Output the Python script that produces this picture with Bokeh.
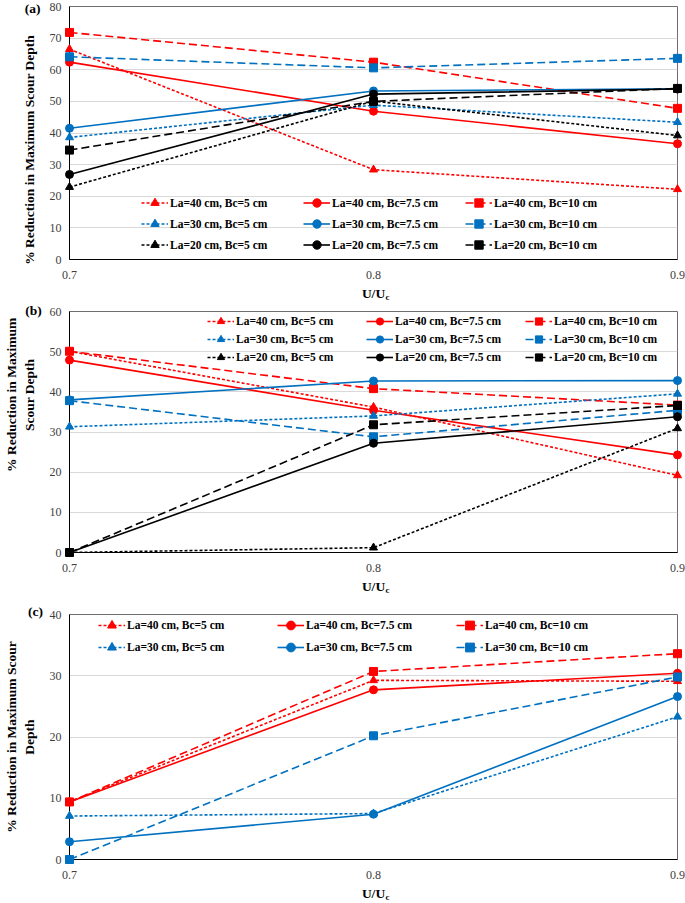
from bokeh.plotting import figure
from bokeh.models import (Legend, LegendItem, FixedTicker, Range1d)
from bokeh.core.properties import value
from bokeh.layouts import column
from bokeh.embed import file_html
from bokeh.resources import INLINE

# ---------------- data ----------------
U = [0.7, 0.8, 0.9]
x_ticks = [0.7, 0.8, 0.9]

labels_a = ["La=40 cm, Bc=5 cm", "La=40 cm, Bc=7.5 cm", "La=40 cm, Bc=10 cm",
            "La=30 cm, Bc=5 cm", "La=30 cm, Bc=7.5 cm", "La=30 cm, Bc=10 cm",
            "La=20 cm, Bc=5 cm", "La=20 cm, Bc=7.5 cm", "La=20 cm, Bc=10 cm"]
labels_c = labels_a[:6]

# panel (a)
a_40_5 = [66.5, 28.4, 22.2]
a_40_75 = [62.4, 46.9, 36.6]
a_40_10 = [71.8, 62.4, 47.8]
a_30_5 = [38.6, 48.8, 43.4]
a_30_75 = [41.5, 53.3, 54.0]
a_30_10 = [64.1, 60.6, 63.6]
a_20_5 = [22.9, 50.1, 39.2]
a_20_75 = [26.9, 52.3, 53.9]
a_20_10 = [34.6, 50.0, 54.1]

# panel (b)
b_40_5 = [50.1, 36.2, 19.2]
b_40_75 = [47.9, 35.4, 24.3]
b_40_10 = [50.1, 40.8, 36.7]
b_30_5 = [31.3, 34.0, 39.5]
b_30_75 = [38.0, 42.7, 42.8]
b_30_10 = [37.8, 28.8, 35.4]
b_20_5 = [0.0, 1.2, 30.9]
b_20_75 = [0.0, 27.2, 33.8]
b_20_10 = [0.0, 31.8, 36.6]

# panel (c)
c_40_5 = [9.4, 29.25, 29.1]
c_40_75 = [9.4, 27.7, 30.4]
c_40_10 = [9.4, 30.7, 33.6]
c_30_5 = [7.1, 7.5, 23.3]
c_30_75 = [2.9, 7.4, 26.6]
c_30_10 = [0.0, 20.2, 29.8]

series_a = [a_40_5, a_40_75, a_40_10, a_30_5, a_30_75, a_30_10, a_20_5, a_20_75, a_20_10]
series_b = [b_40_5, b_40_75, b_40_10, b_30_5, b_30_75, b_30_10, b_20_5, b_20_75, b_20_10]
series_c = [c_40_5, c_40_75, c_40_10, c_30_5, c_30_75, c_30_10]

# ---------------- styles ----------------
COLORS = ["#FF0000"] * 3 + ["#0070C0"] * 3 + ["#000000"] * 3
DASHES = ["3 2", "solid", "8 4"] * 3
MARKERS = ["triangle", "circle", "square"] * 3
MSIZES = [8, 8, 8] * 3
SERIF = "Liberation Serif"
NB = "\u00a0"   # non-breaking space, used to nudge the y titles along the axis


def make_panel(series, labels, y_max, height, top, bottom, left,
               ylabel, ylab_standoff, tag, tag_off, leg_loc, leg_colw, leg_row):
    p = figure(width=685, height=height, output_backend="svg", toolbar_location=None,
               x_range=Range1d(0.7, 0.9), y_range=Range1d(0, y_max),
               min_border_left=left, min_border_right=8,
               min_border_top=top, min_border_bottom=bottom)
    p.outline_line_color = "#6e6e6e"
    p.outline_line_width = 1
    p.xgrid.grid_line_color = None
    p.ygrid.grid_line_color = "#D9D9D9"
    p.ygrid.grid_line_width = 1
    p.xaxis.ticker = FixedTicker(ticks=x_ticks)
    p.yaxis.ticker = FixedTicker(ticks=list(range(0, y_max + 1, 10)))
    for ax in (p.xaxis[0], p.yaxis[0]):
        ax.major_tick_out = 0
        ax.major_tick_in = 0
        ax.minor_tick_out = 0
        ax.minor_tick_in = 0
        ax.axis_line_color = "black"
        ax.major_label_text_font = SERIF
        ax.major_label_text_font_size = "12px"
        ax.major_label_text_color = "#404040"
        ax.axis_label_text_font = SERIF
        ax.axis_label_text_font_style = "bold"
        ax.axis_label_text_font_size = "13.5px"
        ax.axis_label_text_color = "black"
    p.xaxis.major_label_standoff = 11
    p.xaxis.axis_label = "U/U"
    p.xaxis.axis_label_standoff = 4
    p.yaxis.major_label_standoff = 8
    p.yaxis.axis_label = ylabel
    p.yaxis.axis_label_standoff = ylab_standoff

    items = []
    for i, (ys, lab) in enumerate(zip(series, labels)):
        ln = p.line(U, ys, line_color=COLORS[i], line_width=1.6, line_dash=DASHES[i])
        mk = p.scatter(U, ys, marker=MARKERS[i], size=MSIZES[i], fill_color=COLORS[i],
                       line_color=COLORS[i], level="annotation")
        items.append(LegendItem(label=lab, renderers=[ln, mk]))

    leg = Legend(items=items, ncols=3, orientation="horizontal", location=leg_loc,
                 glyph_width=27, glyph_height=leg_row, label_standoff=2,
                 label_width=leg_colw - 29, label_height=leg_row, spacing=0,
                 padding=0, margin=0, border_line_alpha=0, background_fill_alpha=0,
                 label_text_font=SERIF, label_text_font_style="bold",
                 label_text_font_size="11.5px", label_text_color="black")
    p.add_layout(leg)

    # panel tag, e.g. "(a)", placed at the top-left corner of the frame
    p.text(x=[x_ticks[0]], y=[y_max], text=[tag], x_offset=tag_off[0], y_offset=tag_off[1],
           text_font=value(SERIF), text_font_style="bold", text_font_size=value("13.5px"),
           text_align="center", text_baseline="middle", text_color="black",
           level="annotation")
    # subscript "c" of the x-axis title U/Uc
    p.text(x=[x_ticks[1]], y=[0], text=["c"], x_offset=12, y_offset=37,
           text_font=value(SERIF), text_font_style="bold", text_font_size=value("9px"),
           text_align="left", text_baseline="middle", text_color="black",
           level="annotation")
    return p


ylab_a = "% Reduction in Maximum Scour Depth" + NB * 10
ylab_b = NB * 22 + "% Reduction in Maximum\n" + NB * 22 + "Scour Depth"
ylab_c = "% Reduction in Maximum Scour\nDepth"

pa = make_panel(series_a, labels_a, 80, 303, 6, 41, 62,
                ylab_a, 10, "(a)", (-37, 2), (72, 4), 162, 21)
pb = make_panel(series_b, labels_a, 60, 293, 8, 41, 60,
                ylab_b, 10, "(b)", (-36, -1), (138, 186), 159, 18)
pc = make_panel(series_c, labels_c, 40, 307, 18, 41, 57,
                ylab_c, 10, "(c)", (-34, -3), (29, 201), 179, 22)

layout = column(pa, pb, pc, spacing=0)
open("out.html", "w").write(file_html(layout, INLINE))
